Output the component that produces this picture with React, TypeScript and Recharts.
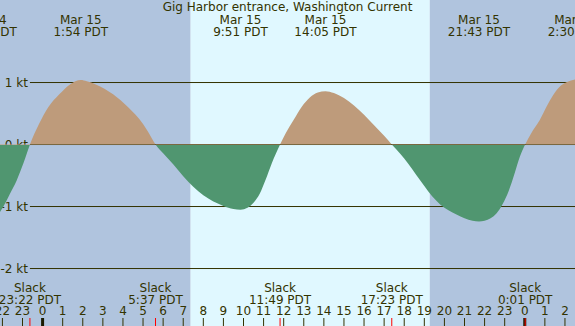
import React from 'react';
import { AreaChart, Area, XAxis, YAxis, ReferenceArea, ReferenceLine } from 'recharts';

// current speed (kt), hours relative to midnight Mar 15
const hours = [
  -2.12, -1.95, -1.63, -1.29, -0.95, -0.63,
  -0.18, 0.28, 0.83, 1.36, 1.9, 2.2, 2.65, 3.51, 4.26, 5.0, 5.42, 5.62,
  6.0, 6.5, 7.0, 7.5, 8.0, 8.5, 9.0, 9.5, 9.85, 10.2, 10.5, 10.8, 11.1, 11.4, 11.82,
  12.1, 12.5, 12.9, 13.3, 13.7, 14.08, 14.5, 15.0, 15.5, 16.0, 16.5, 17.0, 17.38,
  17.8, 18.2, 18.6, 19.0, 19.4, 19.8, 20.2, 20.6, 21.0, 21.4, 21.72, 22.0, 22.3,
  22.6, 22.9, 23.2, 23.5, 23.75, 24.02,
  24.3, 24.74, 25.1, 25.4, 25.8, 26.1, 26.5,
];
const speeds = [
  -1.09, -1.0, -0.8, -0.58, -0.3, 0,
  0.33, 0.6, 0.81, 0.97, 1.04, 1.02, 0.97, 0.81, 0.6, 0.33, 0.11, 0,
  -0.14, -0.32, -0.51, -0.68, -0.82, -0.92, -0.99, -1.04, -1.05, -1.02, -0.94, -0.8, -0.57, -0.31, 0,
  0.18, 0.4, 0.61, 0.76, 0.84, 0.86, 0.83, 0.75, 0.63, 0.48, 0.31, 0.14, 0,
  -0.15, -0.31, -0.49, -0.67, -0.84, -0.97, -1.06, -1.13, -1.19, -1.23, -1.24, -1.23, -1.19,
  -1.11, -0.96, -0.75, -0.46, -0.2, 0,
  0.17, 0.39, 0.62, 0.79, 0.95, 1.01, 1.05,
];

const extremeHours = [-2.83, 1.9, 9.85, 14.08, 21.72, 26.5];
const extremeDates = ['Mar 14', 'Mar 15', 'Mar 15', 'Mar 15', 'Mar 15', 'Mar 16'];
const extremeTimes = ['21:10 PDT', '1:54 PDT', '9:51 PDT', '14:05 PDT', '21:43 PDT', '2:30 PDT'];

const slackHours = [-0.63, 5.62, 11.82, 17.38, 24.02];
const slackTimes = ['23:22 PDT', '5:37 PDT', '11:49 PDT', '17:23 PDT', '0:01 PDT'];

const sunrise = 7.37;
const sunset = 19.27;

const speedLevels = [1, 0, -1, -2];
const hourTicks = [
  -2, -1, 0, 1, 2, 3, 4, 5, 6, 7, 8, 9, 10, 11, 12, 13, 14, 15, 16, 17, 18, 19, 20,
  21, 22, 23, 24, 25, 26,
];

const X_MIN = -2.12;
const X_MAX = 26.5;
const INK = '#333300';
const NIGHT = '#b0c4de';
const DAY = '#e0f8ff';
const FLOOD = '#be9b7b';
const EBB = '#509670';
const FONT = 'DejaVu Sans';

const data = hours.map((h, i) => ({ hour: h, speed: speeds[i] }));
const maxV = Math.max(...speeds);
const minV = Math.min(...speeds);
const split = maxV / (maxV - minV);

const HourTick = (props: any) => {
  const { x, y, payload } = props;
  const v = payload.value;
  if (slackHours.includes(v)) {
    return <line x1={x} x2={x} y1={y} y2={y - 8} stroke="#ff0000" />;
  }
  const midnight = v === 0 || v === 24;
  return (
    <g>
      <line x1={x} x2={x} y1={y} y2={y - 8} stroke={midnight ? '#1a1a00' : INK} strokeWidth={midnight ? 3 : 1} />
      <text x={x} y={y - 11} textAnchor="middle" fill={INK} fontSize={12} fontFamily={FONT}>
        {((v % 24) + 24) % 24}
      </text>
    </g>
  );
};

export default function App() {
  return (
    <div style={{ width: 575, height: 326, position: 'relative' }}>
      <style>{'body{margin:0}'}</style>
      <AreaChart width={575} height={326} data={data} margin={{ top: 0, right: 0, bottom: 0, left: 0 }}>
        <defs>
          <linearGradient id="tideFill" x1="0" y1="0" x2="0" y2="1">
            <stop offset={split} stopColor={FLOOD} />
            <stop offset={split} stopColor={EBB} />
          </linearGradient>
        </defs>
        <XAxis
          type="number"
          dataKey="hour"
          domain={[X_MIN, X_MAX]}
          allowDataOverflow
          ticks={[...hourTicks, ...slackHours]}
          interval={0}
          mirror
          height={20}
          tickSize={0}
          tickMargin={0}
          axisLine={false}
          tickLine={false}
          tick={<HourTick />}
          zIndex={2000}
        />
        <YAxis hide type="number" domain={[-2.927, 2.331]} allowDataOverflow />

        <ReferenceArea x1={X_MIN} x2={sunrise} fill={NIGHT} fillOpacity={1} stroke="none" zIndex={-200} />
        <ReferenceArea x1={sunrise} x2={sunset} fill={DAY} fillOpacity={1} stroke="none" zIndex={-200} />
        <ReferenceArea x1={sunset} x2={X_MAX} fill={NIGHT} fillOpacity={1} stroke="none" zIndex={-200} />

        {speedLevels.map((v) => (
          <ReferenceLine
            key={'lvl' + v}
            segment={[{ x: -0.63, y: v }, { x: X_MAX, y: v }]}
            stroke={INK}
            zIndex={50}
            ifOverflow="visible"
            label={(p: any) => (
              <text
                x={p.viewBox.x - 2}
                y={p.viewBox.y + 4}
                textAnchor="end"
                fill={INK}
                fontSize={12}
                fontFamily={FONT}
              >
                {v} kt
              </text>
            )}
          />
        ))}

        <Area
          type="monotone"
          dataKey="speed"
          baseValue={0}
          stroke="none"
          fill="url(#tideFill)"
          fillOpacity={1}
          dot={false}
          activeDot={false}
          isAnimationActive={false}
        />

        {extremeHours.map((h, i) => (
          <ReferenceLine
            key={'ext' + i}
            x={h}
            stroke="none"
            ifOverflow="visible"
            label={(p: any) => (
              <text textAnchor="middle" fill={INK} fontSize={12} fontFamily={FONT}>
                <tspan x={p.viewBox.x} y={p.viewBox.y + 24}>{extremeDates[i]}</tspan>
                <tspan x={p.viewBox.x} y={p.viewBox.y + 36}>{extremeTimes[i]}</tspan>
              </text>
            )}
          />
        ))}

        {slackHours.map((h, i) => (
          <ReferenceLine
            key={'slack' + i}
            x={h}
            stroke="none"
            ifOverflow="visible"
            label={(p: any) => (
              <text textAnchor="middle" fill={INK} fontSize={12} fontFamily={FONT}>
                <tspan x={p.viewBox.x} y={p.viewBox.y + p.viewBox.height - 34}>Slack</tspan>
                <tspan x={p.viewBox.x} y={p.viewBox.y + p.viewBox.height - 22}>{slackTimes[i]}</tspan>
              </text>
            )}
          />
        ))}
      </AreaChart>
      <div
        style={{
          position: 'absolute',
          top: 0,
          left: 0,
          width: 575,
          textAlign: 'center',
          fontFamily: FONT,
          fontSize: 12,
          lineHeight: '15px',
          color: INK,
          pointerEvents: 'none',
        }}
      >
        Gig Harbor entrance, Washington Current
      </div>
    </div>
  );
}
